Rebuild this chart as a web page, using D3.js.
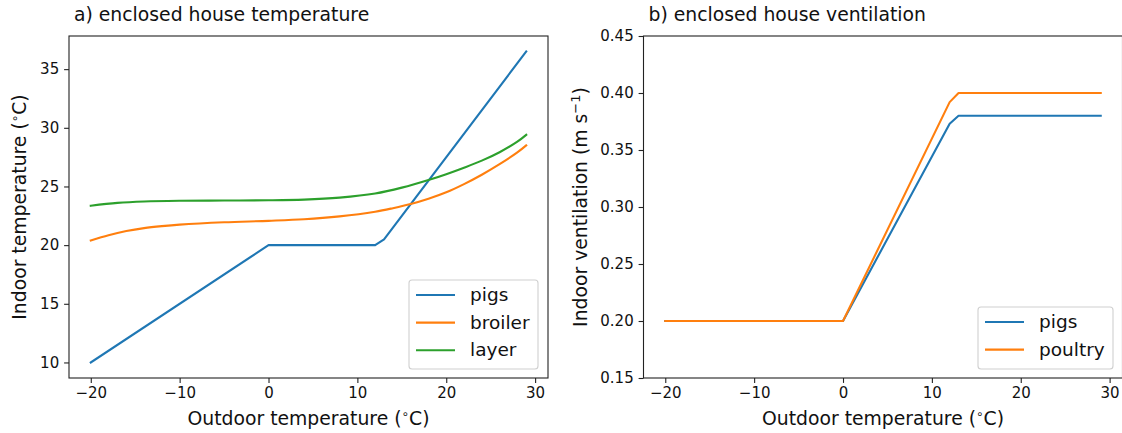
<!DOCTYPE html>
<html>
<head>
<meta charset="utf-8">
<script src="https://cdn.jsdelivr.net/npm/d3@7/dist/d3.min.js"></script>
<style>
  body { margin: 0; background: #fff; }
  svg { display: block; font-family: "DejaVu Sans", sans-serif; }
</style>
</head>
<body>
<div id="chart-area"></div>
<script>
// readings from the picture
const pigsTempX = [-20, 0, 12, 13, 29];
const pigsTempY = [10, 20, 20, 20.5, 36.5];
const broilerX = [-20, -18, -16, -14, -12, -10, -5, 0, 4, 8, 12, 14, 16, 18, 20, 22, 24, 26, 28, 29];
const broilerY = [20.4, 20.85, 21.2, 21.45, 21.62, 21.75, 21.95, 22.07, 22.2, 22.45, 22.85, 23.15, 23.5, 23.95, 24.5, 25.2, 26.0, 26.9, 27.9, 28.5];
const layerX = [-20, -17, -14, -10, -5, 0, 4, 8, 12, 15, 18, 20, 22, 24, 26, 28, 29];
const layerY = [23.36, 23.6, 23.72, 23.78, 23.8, 23.82, 23.88, 24.05, 24.4, 24.9, 25.55, 26.05, 26.6, 27.2, 27.92, 28.82, 29.4];

const ventX = [-20, 0, 12, 13, 29];
const pigsVent = [0.2, 0.2, 0.373, 0.38, 0.38];
const poultryVent = [0.2, 0.2, 0.392, 0.40, 0.40];

const xTicks = [-20, -10, 0, 10, 20, 30];
const tempTicks = [10, 15, 20, 25, 30, 35];
const ventTicks = [0.15, 0.20, 0.25, 0.30, 0.35, 0.40, 0.45];

const blue = '#1f77b4', orange = '#ff7f0e', green = '#2ca02c';

const W = 1122, H = 433;
const plotTop = 36, plotBottom = 378;
const panels = [
  { left: 69, right: 548, labelOffset: 43 },
  { left: 643.5, right: 1122.5, labelOffset: 57 }
];

const svg = d3.select('#chart-area')
  .append('svg')
  .attr('width', W)
  .attr('height', H);

svg.append('rect').attr('width', W).attr('height', H).attr('fill', '#fff');

const zip = (xs, ys) => xs.map((x, i) => [x, ys[i]]);
const fmtMinus = (d) => String(d).replace('-', '\u2212');

function drawPanel(p, yDomain, yTickVals, yFormat, series, title, yLabel, legend) {
  const x = d3.scaleLinear().domain([-22.45, 31.45]).range([p.left, p.right]);
  const y = d3.scaleLinear().domain(yDomain).range([plotBottom, plotTop]);
  const g = svg.append('g');

  series.forEach((s) => {
    const line = d3.line()
      .x((d) => x(d[0]))
      .y((d) => y(d[1]))
      .curve(s.smooth ? d3.curveCatmullRom.alpha(0.5) : d3.curveLinear);
    g.append('path')
      .attr('d', line(s.data))
      .attr('fill', 'none')
      .attr('stroke', s.color)
      .attr('stroke-width', 2.1)
      .attr('stroke-linejoin', 'round')
      .attr('stroke-linecap', 'square');
  });

  // frame
  g.append('rect')
    .attr('x', p.left).attr('y', plotTop)
    .attr('width', p.right - p.left).attr('height', plotBottom - plotTop)
    .attr('fill', 'none').attr('stroke', '#222').attr('stroke-width', 1.1);

  const xAxis = d3.axisBottom(x).tickValues(xTicks).tickSize(4.9).tickPadding(4.9)
    .tickFormat(fmtMinus);
  const gx = g.append('g')
    .attr('transform', 'translate(0,' + plotBottom + ')')
    .call(xAxis);
  const yAxis = d3.axisLeft(y).tickValues(yTickVals).tickSize(4.9).tickPadding(4.9)
    .tickFormat(yFormat);
  const gy = g.append('g')
    .attr('transform', 'translate(' + p.left + ',0)')
    .call(yAxis);
  [gx, gy].forEach((a) => {
    a.select('.domain').remove();
    a.selectAll('line').attr('stroke', '#222').attr('stroke-width', 1.1);
    a.selectAll('text').attr('font-size', '15px').attr('fill', '#111')
      .attr('font-family', '"DejaVu Sans", sans-serif');
  });

  // title
  g.append('text')
    .attr('x', p.left + 5)
    .attr('y', 21)
    .attr('font-size', '18.8px')
    .attr('fill', '#111')
    .text(title);

  // x label
  const xl = g.append('text')
    .attr('x', (p.left + p.right) / 2)
    .attr('y', 425)
    .attr('text-anchor', 'middle')
    .attr('font-size', '18.8px')
    .attr('fill', '#111');
  xl.append('tspan').text('Outdoor temperature (');
  xl.append('tspan').attr('font-size', '12px').attr('dy', '-7').text('\u2218');
  xl.append('tspan').attr('dy', '7').text('C)');

  // y label
  const yl = g.append('text')
    .attr('transform', 'translate(' + (p.left - p.labelOffset) + ',' + ((plotTop + plotBottom) / 2) + ') rotate(-90)')
    .attr('text-anchor', 'middle')
    .attr('font-size', '18.8px')
    .attr('fill', '#111');
  yLabel(yl);

  // legend
  const lg = g.append('g');
  lg.append('rect')
    .attr('x', legend.x).attr('y', legend.y)
    .attr('width', legend.w).attr('height', legend.h)
    .attr('rx', 3)
    .attr('fill', 'rgba(255,255,255,0.8)')
    .attr('stroke', '#d0d0d0').attr('stroke-width', 1.1);
  series.forEach((s, i) => {
    const ly = legend.y + 15 + i * 27.6;
    lg.append('line')
      .attr('x1', legend.x + 7).attr('x2', legend.x + 46)
      .attr('y1', ly).attr('y2', ly)
      .attr('stroke', s.color).attr('stroke-width', 2.1);
    lg.append('text')
      .attr('x', legend.x + 61)
      .attr('y', ly + 6)
      .attr('font-size', '18.5px')
      .attr('fill', '#111')
      .text(s.name);
  });
}

drawPanel(panels[0], [8.675, 37.825], tempTicks, (d) => d,
  [
    { name: 'pigs', color: blue, data: zip(pigsTempX, pigsTempY) },
    { name: 'broiler', color: orange, data: zip(broilerX, broilerY), smooth: true },
    { name: 'layer', color: green, data: zip(layerX, layerY), smooth: true }
  ],
  'a) enclosed house temperature',
  (t) => {
    t.append('tspan').text('Indoor temperature (');
    t.append('tspan').attr('font-size', '12px').attr('dy', '-7').text('\u2218');
    t.append('tspan').attr('dy', '7').text('C)');
  },
  { x: 409, y: 280, w: 129, h: 89 });

drawPanel(panels[1], [0.15, 0.45], ventTicks, d3.format('.2f'),
  [
    { name: 'pigs', color: blue, data: zip(ventX, pigsVent) },
    { name: 'poultry', color: orange, data: zip(ventX, poultryVent) }
  ],
  'b) enclosed house ventilation',
  (t) => {
    t.append('tspan').text('Indoor ventilation (m s');
    t.append('tspan').attr('font-size', '13px').attr('dy', '-7').text('\u22121');
    t.append('tspan').attr('dy', '7').text(')');
  },
  { x: 978, y: 307, w: 135, h: 62 });
</script>
</body>
</html>
